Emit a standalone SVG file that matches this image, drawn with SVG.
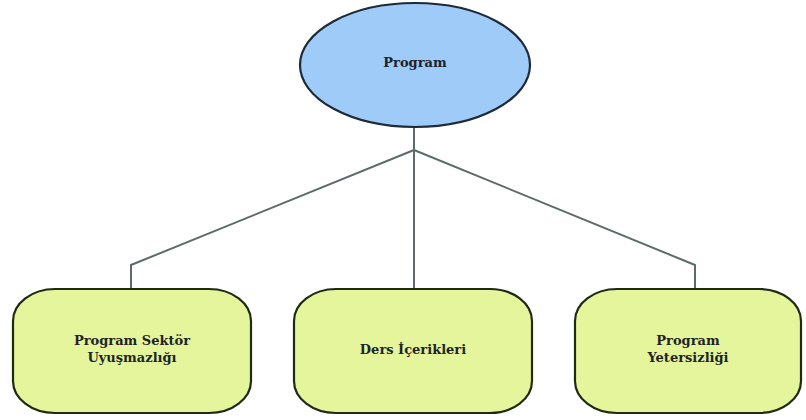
<svg xmlns="http://www.w3.org/2000/svg" width="806" height="420" viewBox="0 0 806 420">
  <style>
    .root { fill: #9ecbf7; stroke: #1f2a38; stroke-width: 2.2; }
    .leaf { fill: #e4f59c; stroke: #1f2a14; stroke-width: 2.2; }
    .link { fill: none; stroke: #5e6b6b; stroke-width: 2; }
    .lbl { font-family: "DejaVu Serif", "Liberation Serif", serif; font-size: 13px; font-weight: bold; fill: #1e2328; text-anchor: middle; }
  </style>
  <rect width="806" height="420" fill="#ffffff"/>

  <!-- connectors from the root to its three children -->
  <g id="connectors">
    <polyline class="link" points="414,127 414,289"/>
    <polyline class="link" points="414,150 131,265 131,289"/>
    <polyline class="link" points="414,150 695,265 695,289"/>
  </g>

  <g id="node-program">
    <ellipse class="root" cx="415" cy="65" rx="115" ry="62"/>
    <text class="lbl" x="415" y="67">Program</text>
  </g>

  <g id="node-sektor">
    <rect class="leaf" x="13" y="289" width="238" height="124" rx="42" ry="32"/>
    <text class="lbl" x="132" y="345">Program Sektör</text>
    <text class="lbl" x="132" y="362">Uyuşmazlığı</text>
  </g>

  <g id="node-ders">
    <rect class="leaf" x="294" y="289" width="238" height="124" rx="42" ry="32"/>
    <text class="lbl" x="413" y="354">Ders İçerikleri</text>
  </g>

  <g id="node-yeterlilik">
    <rect class="leaf" x="575" y="289" width="226" height="124" rx="42" ry="32"/>
    <text class="lbl" x="688" y="345">Program</text>
    <text class="lbl" x="688" y="362">Yetersizliği</text>
  </g>
</svg>
